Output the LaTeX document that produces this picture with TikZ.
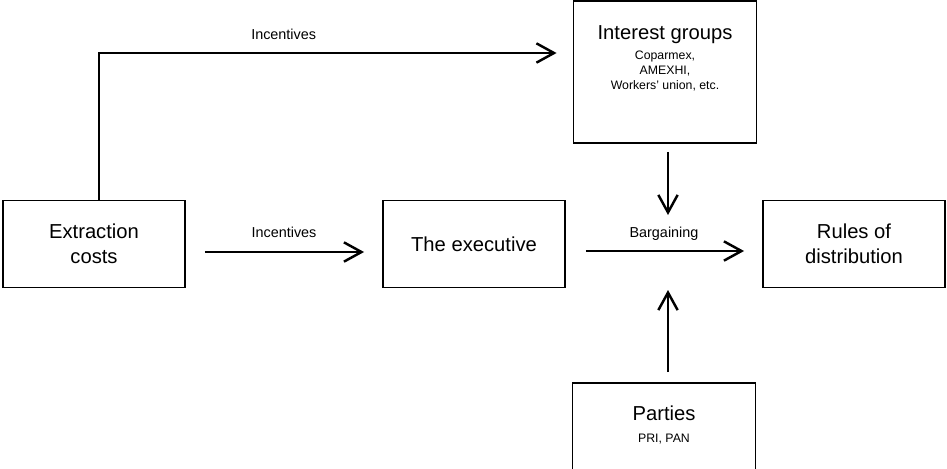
\documentclass[tikz,border=0pt]{standalone}
\usepackage{fontspec}
\setmainfont{Liberation Sans}
\usetikzlibrary{positioning,arrows.meta}
\tikzstyle{block} = [rectangle, draw=black, line width=1.1pt, minimum width=3.64cm, minimum height=1.74cm, text centered, align=center, font=\fontsize{11.5}{14}\selectfont]
\tikzstyle{bigblock} = [rectangle, draw=black, line width=1.1pt, minimum width=3.66cm, minimum height=2.84cm]
\tikzstyle{title} = [inner sep=0pt, font=\fontsize{11.5}{14}\selectfont]
\tikzstyle{members} = [inner sep=0pt, align=center, font=\fontsize{7}{8.5}\selectfont]
\tikzstyle{lbl} = [font=\fontsize{8.2}{10}\selectfont]
\tikzstyle{arrow} = [line width=1.4pt, -{Straight Barb[length=10pt,width=11pt]}]

\begin{document}
\begin{tikzpicture}[x=0.02cm, y=-0.02cm]
    \useasboundingbox (0,0) rectangle (947,468);
    \node (ext)[block] at (94,244) {Extraction\\costs};
    \node (exec)[block] at (474,244) {The executive};
    \node (rules)[block] at (854,244) {Rules of\\distribution};
    \node (ig)[bigblock] at (665,72) {};
    \node (igtitle)[title, below=0.5cm of ig.north] {Interest groups};
    \node (igmembers)[members, below=1.02cm of ig.north] {Coparmex,\\AMEXHI,\\Workers' union, etc.};
    \node (pt)[bigblock] at (664,454) {};
    \node (pttitle)[title, below=0.46cm of pt.north] {Parties};
    \node (ptmembers)[members, below=1.04cm of pt.north] {PRI, PAN};
    \coordinate (corner) at (99,53);
    \coordinate (igin) at (668,215);
    \coordinate (ptin) at (668,290);

    \draw[arrow, shorten >=0.32cm] (ext.north -| corner) -- (corner) -- (corner -| ig.west) node[lbl, above=3.4pt, pos=0.39]{Incentives};
    \draw[arrow, shorten <=0.38cm, shorten >=0.36cm] ([yshift=-0.16cm]ext.east) -- ([yshift=-0.16cm]exec.west) node[lbl, above=4pt, midway]{Incentives};
    \draw[arrow, shorten <=0.4cm, shorten >=0.36cm] ([yshift=-0.14cm]exec.east) -- ([yshift=-0.14cm]rules.west) node[lbl, above=1.7pt, midway]{Bargaining};
    \draw[arrow, shorten <=0.16cm] (ig.south -| igin) -- (igin);
    \draw[arrow, shorten <=0.2cm] (pt.north -| ptin) -- (ptin);
\end{tikzpicture}
\end{document}
